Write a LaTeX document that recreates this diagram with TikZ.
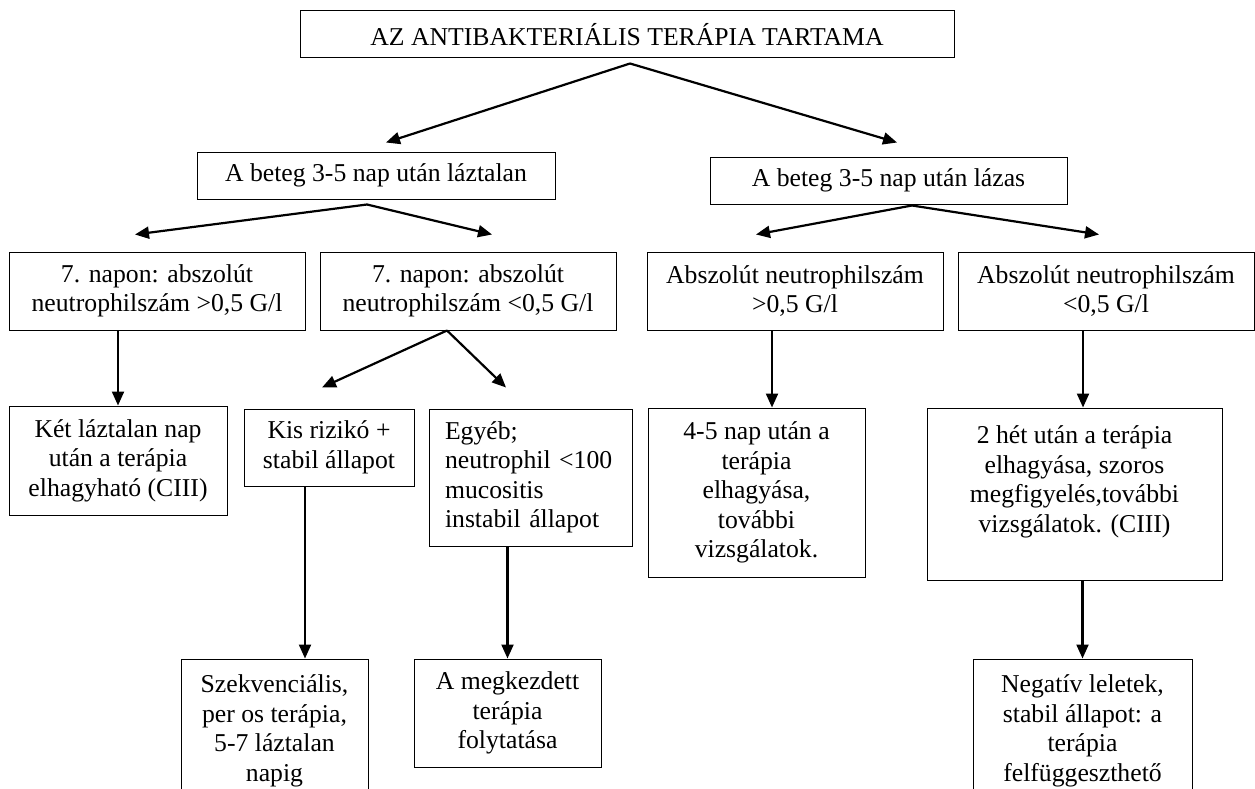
\documentclass[tikz,border=0pt]{standalone}
\usepackage{fontspec}
\setmainfont{Liberation Serif}
\usetikzlibrary{arrows.meta, positioning}

\begin{document}
\begin{tikzpicture}[x=1pt, y=1pt,
  gbox/.style={draw, line width=1pt, align=center, inner sep=2pt, minimum height=47pt,
    font=\fontsize{25.7}{29.5}\selectfont},
  ->/.style={-{Triangle[length=14pt, width=12pt]}, line width=2.2pt}]
  \useasboundingbox (0,0) rectangle (1255,-789);
  \clip (0,0) rectangle (1255,-789);
  \fill[white] (0,0) rectangle (1255,-789);
  \node[gbox, minimum width=654pt] (n0) at (627,-34.5) {AZ ANTIBAKTERIÁLIS TERÁPIA TARTAMA};
  \node[gbox, minimum width=358pt] (l0) [below = 93pt of n0, xshift=-251pt] {A beteg 3-5 nap után láztalan};
  \node[gbox, minimum width=357pt] (r0) [below = 98pt of n0, xshift=261.5pt] {A beteg 3-5 nap után lázas};
  \node[gbox, minimum width=296pt, minimum height=78pt] (l1) [below = 52pt of l0, xshift=-219pt] {7. napon: abszolút\\neutrophilszám >0,5 G/l};
  \node[gbox, minimum width=296pt, minimum height=78pt] (l2) [below = 52pt of l0, xshift=92pt] {7. napon: abszolút\\neutrophilszám <0,5 G/l};
  \node[gbox, minimum width=296pt, minimum height=78pt] (r1) [below = 47pt of r0, xshift=-93.5pt] {Abszolút neutrophilszám\\>0,5 G/l};
  \node[gbox, minimum width=296pt, minimum height=78pt] (r2) [below = 47pt of r0, xshift=217.5pt] {Abszolút neutrophilszám\\<0,5 G/l};
  \node[gbox, minimum width=218pt, minimum height=109pt] (l3) [below = 75pt of l1, xshift=-39pt] {Két láztalan nap\\után a terápia\\elhagyható (CIII)};
  \node[gbox, minimum width=170pt, minimum height=77pt] (l4) [below = 78pt of l2, xshift=-139pt] {Kis rizikó +\\stabil állapot};
  \node[gbox, text width=171pt, align=left, inner xsep=16pt, minimum height=137pt] (l5) [below = 78pt of l2, xshift=62.5pt] {Egyéb;\\neutrophil <100\\mucositis\\instabil állapot};
  \node[gbox, minimum width=217pt, minimum height=169pt] (r3) [below = 77pt of r1, xshift=-38.5pt] {4-5 nap után a\\terápia\\elhagyása,\\további\\vizsgálatok.};
  \node[gbox, minimum width=295pt, minimum height=172pt] (r4) [below = 77pt of r2, xshift=-31.5pt] {2 hét után a terápia\\elhagyása, szoros\\megfigyelés,további\\vizsgálatok. (CIII)\\\mbox{}};
  \node[gbox, minimum width=187pt, minimum height=144pt] (l6) [below = 172pt of l4, xshift=-54.5pt] {Szekvenciális,\\per os terápia,\\5-7 láztalan\\napig};
  \node[gbox, minimum width=187pt, minimum height=108pt] (l7) [below = 112pt of l5, xshift=-23pt] {A megkezdett\\terápia\\folytatása};
  \node[gbox, minimum width=219pt, minimum height=144pt] (r5) [below = 78pt of r4, xshift=8pt] {Negatív leletek,\\stabil állapot: a\\terápia\\felfüggeszthető};
  \draw[->] ([xshift=3pt, yshift=-5pt]n0.south) -- ([xshift=10pt, yshift=9pt]l0.north);
  \draw[->] ([xshift=3pt, yshift=-5pt]n0.south) -- ([xshift=8.5pt, yshift=14pt]r0.north);
  \draw[->] ([xshift=-9pt, yshift=-5pt]l0.south) -- ([xshift=-22pt, yshift=17pt]l1.north);
  \draw[->] ([xshift=-9pt, yshift=-5pt]l0.south) -- ([xshift=24pt, yshift=17pt]l2.north);
  \draw[->] ([xshift=23.5pt, yshift=-1pt]r0.south) -- ([xshift=-39pt, yshift=17pt]r1.north);
  \draw[->] ([xshift=23.5pt, yshift=-1pt]r0.south) -- ([xshift=-7pt, yshift=17pt]r2.north);
  \draw[->] (l3.north |- l1.south) -- (l3.north);
  \draw[->] ([xshift=-21pt]l2.south) -- ([xshift=-7pt, yshift=21pt]l4.north);
  \draw[->] ([xshift=-21pt]l2.south) -- ([xshift=-24.5pt, yshift=21pt]l5.north);
  \draw[->] ([xshift=-23pt]r1.south) -- ([xshift=15.5pt]r3.north);
  \draw[->] ([xshift=-23pt]r2.south) -- ([xshift=8.5pt]r4.north);
  \draw[->] ([xshift=-24pt]l4.south) -- ([xshift=30.5pt]l6.north);
  \draw[->] (l7.north |- l5.south) -- (l7.north);
  \draw[->] (r5.north |- r4.south) -- (r5.north);
\end{tikzpicture}
\end{document}
